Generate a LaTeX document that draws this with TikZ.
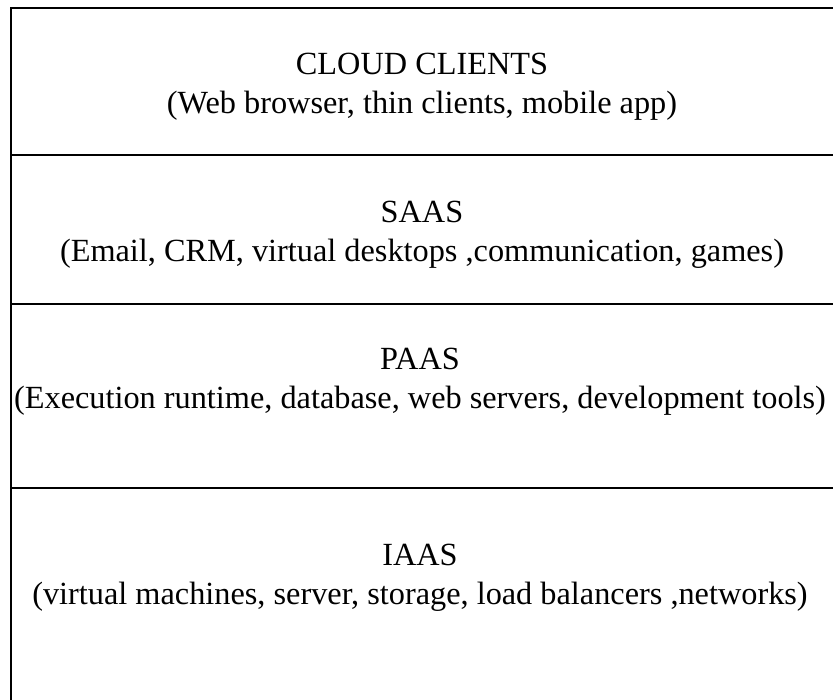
\documentclass[tikz,border=0pt]{standalone}
\usepackage{fontspec}
\setmainfont{Liberation Serif}

\tikzset{
  layer/.style={align=center, font=\fontsize{32.3}{39}\selectfont, inner sep=0pt},
  rule/.style={line width=2.4pt}
}

\begin{document}
\begin{tikzpicture}[x=1pt, y=-1pt]
    \useasboundingbox (0, 0) rectangle (833, 700);

    % Rahmen: oben und links, rechts/unten offen
    \draw[rule] (11, 700) -- (11, 8) -- (840, 8);

    % Trennlinien zwischen den Schichten
    \draw[rule] (11, 155) -- (840, 155);
    \draw[rule] (11, 304) -- (840, 304);
    \draw[rule] (11, 488) -- (840, 488);

    % Schichten
    \node[layer] (clients) at (422, 87) {CLOUD CLIENTS\\(Web browser, thin clients, mobile app)};
    \node[layer] (saas) at (422, 235) {SAAS\\(Email, CRM, virtual desktops ,communication, games)};
    \node[layer] (paas) at (420, 382) {PAAS\\(Execution runtime, database, web servers, development tools)};
    \node[layer] (iaas) at (420, 578) {IAAS\\(virtual machines, server, storage, load balancers ,networks)};
\end{tikzpicture}
\end{document}
